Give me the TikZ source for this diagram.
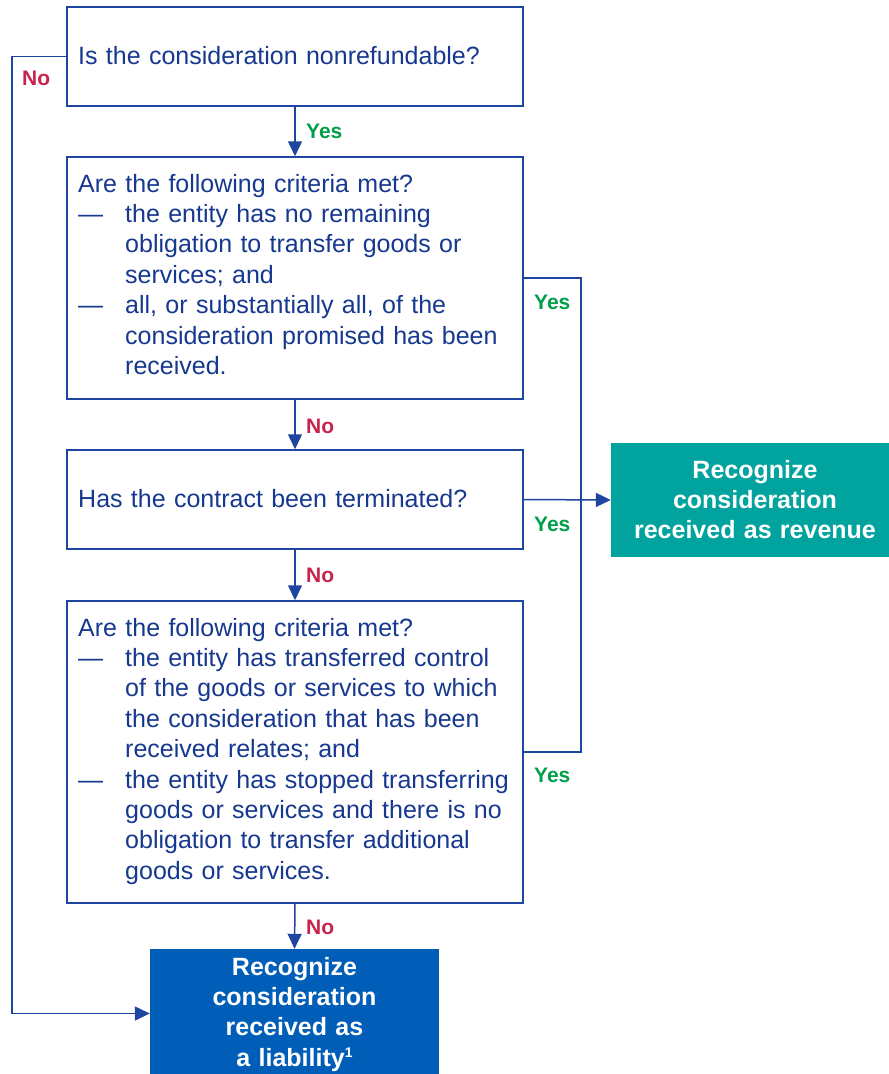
\documentclass[tikz,border=0pt]{standalone}
\usepackage{fontspec}
\setmainfont{Liberation Sans}
\usetikzlibrary{arrows.meta}
\definecolor{navy}{HTML}{16388F}
\definecolor{edge}{HTML}{1E45A0}
\definecolor{nored}{HTML}{C8234C}
\definecolor{yesgreen}{HTML}{00A04A}
\definecolor{tealbox}{HTML}{00A39E}
\definecolor{bluebox}{HTML}{005EB8}
\newcommand{\itemline}{\noindent\hangindent=47pt\hangafter=1\makebox[47pt][l]{—}}
\begin{document}
\begin{tikzpicture}[x=1pt,y=-1pt,
  qbox/.style={draw=edge,line width=1.5pt,fill=white,minimum width=456pt,inner sep=0pt},
  qtext/.style={anchor=base west,inner sep=0pt,text=navy,text width=440pt,align=left,
    font=\fontsize{25}{30.4}\selectfont},
  outbox/.style={anchor=base,inner sep=0pt,text=white,align=center,
    font=\fontsize{25}{30.4}\selectfont\bfseries},
  conn/.style={draw=edge,line width=1.5pt},
  arr/.style={conn,-{Triangle[length=15pt,width=14pt]}},
  nolab/.style={anchor=base west,inner sep=0pt,text=nored,font=\fontsize{21}{24}\selectfont\bfseries},
  yeslab/.style={anchor=base west,inner sep=0pt,text=yesgreen,font=\fontsize{21}{24}\selectfont\bfseries}]
\useasboundingbox (0,0) rectangle (889,1074);
\fill[white] (0,0) rectangle (889,1074);

% question boxes
\node[qbox,minimum height=99pt] (b1) at (295,56.5) {};
\node[qbox,minimum height=242pt] (b2) at (295,278) {};
\node[qbox,minimum height=99pt] (b3) at (295,499.5) {};
\node[qbox,minimum height=302pt] (b4) at (295,752) {};

% outcome boxes
\node[fill=tealbox,minimum width=288pt,minimum height=114pt,inner sep=0pt] (rev) at (755,500) {};
\node[fill=bluebox,minimum width=289pt,minimum height=129pt,inner sep=0pt] (liab) at (294.5,1013.5) {};

% question texts
\node[qtext] (t1) at (78,64) {Is the consideration nonrefundable?};
\node[qtext] (t2) at (78,192) {Are the following criteria met?\par
  \itemline the entity has no remaining\newline obligation to transfer goods or\newline services; and\par
  \itemline all, or substantially all, of the\newline consideration promised has been\newline received.\par};
\node[qtext] (t3) at (78,507) {Has the contract been terminated?};
\node[qtext] (t4) at (78,636) {Are the following criteria met?\par
  \itemline the entity has transferred control\newline of the goods or services to which\newline the consideration that has been\newline received relates; and\par
  \itemline the entity has stopped transferring\newline goods or services and there is no\newline obligation to transfer additional\newline goods or services.\par};

% outcome texts
\node[outbox,text width=286pt] (t5) at (755,478) {Recognize\\consideration\\received as revenue};
\node[outbox,text width=286pt] (t6) at (294.5,975) {Recognize\\consideration\\received as\\a liability\raisebox{9pt}{\fontsize{14}{14}\selectfont 1}};

% main chain
\draw[arr] (b1.south) -- (b2.north);
\draw[arr] (b2.south) -- (b3.north);
\draw[arr] (b3.south) -- (b4.north);
\draw[arr] (b4.south) -- (liab.north);

% "No" route on the left
\coordinate (lc) at (12,56.5);
\draw[arr] (b1.west) -- (lc) |- (liab.west);

% "Yes" route on the right
\coordinate (rc) at (581,278);
\draw[conn] (b2.east) -- (rc) |- (b4.east);
\draw[arr] (b3.east) -- (rev.west);

% labels
\node[yeslab] (y1) at (306,138.5) {Yes};
\node[nolab] (n1) at (306,433.5) {No};
\node[nolab] (n2) at (306,582.5) {No};
\node[nolab] (n3) at (306,934.5) {No};
\node[nolab] (n4) at (22,85.5) {No};
\node[yeslab] (y2) at (534,309.5) {Yes};
\node[yeslab] (y3) at (534,531.5) {Yes};
\node[yeslab] (y4) at (534,782.5) {Yes};
\end{tikzpicture}
\end{document}
